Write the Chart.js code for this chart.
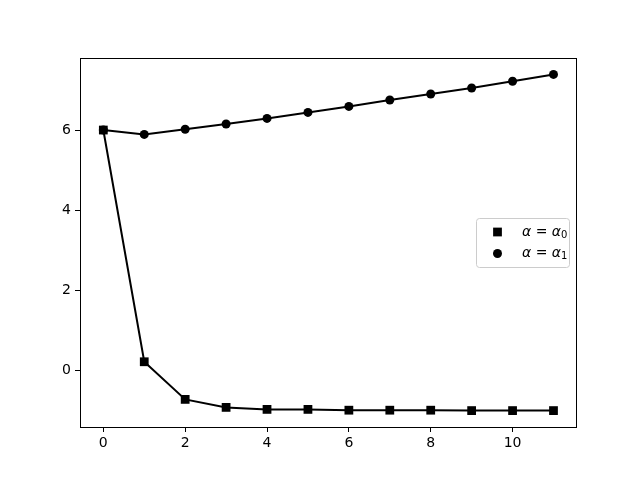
<!DOCTYPE html>
<html>
<head>
<meta charset="utf-8">
<script src="https://cdn.jsdelivr.net/npm/chart.js@4.4.1/dist/chart.umd.min.js"></script>
<style>
    html, body { margin: 0; padding: 0; background: #fff; }
    #wrap { width: 640px; height: 480px; }
</style>
</head>
<body>
<div id="wrap"><canvas id="chart" width="640" height="480"></canvas></div>
<script>
// data
const steps = [0, 1, 2, 3, 4, 5, 6, 7, 8, 9, 10, 11];
const alpha0 = [6.0, 0.21, -0.73, -0.93, -0.98, -0.98, -1.0, -1.0, -1.0, -1.01, -1.01, -1.01];
const alpha1 = [6.0, 5.89, 6.02, 6.15, 6.29, 6.44, 6.59, 6.75, 6.9, 7.05, 7.22, 7.39];
const xTicks = [0, 2, 4, 6, 8, 10];
const yTicks = [0, 2, 4, 6];
const legendLabels = [['α', ' = ', 'α', '0'], ['α', ' = ', 'α', '1']];

const FONT = '"DejaVu Sans", sans-serif';

function toPoints(ys) {
    return steps.map((x, i) => ({ x: x, y: ys[i] }));
}

// box round the axes, like matplotlib spines
const frame = {
    id: 'frame',
    afterDraw(chart) {
        const a = chart.chartArea;
        const ctx = chart.ctx;
        ctx.save();
        ctx.strokeStyle = '#000';
        ctx.lineWidth = 1;
        ctx.strokeRect(Math.round(a.left) + 0.5, Math.round(a.top) + 0.5,
            Math.round(a.right - a.left), Math.round(a.bottom - a.top));
        ctx.restore();
    }
};

// legend with markers only, placed centre right inside the axes
const markerLegend = {
    id: 'markerLegend',
    afterDraw(chart) {
        const ctx = chart.ctx;
        const a = chart.chartArea;
        const w = 93, h = 49;
        const x0 = a.right - 7 - w;
        const y0 = (a.top + a.bottom) / 2 - h / 2;
        ctx.save();
        ctx.fillStyle = 'rgba(255,255,255,0.8)';
        ctx.strokeStyle = '#cccccc';
        ctx.lineWidth = 1;
        ctx.beginPath();
        ctx.roundRect(x0 + 0.5, y0 + 0.5, w, h, 3);
        ctx.fill();
        ctx.stroke();

        chart.data.datasets.forEach((ds, i) => {
            const cy = y0 + 14 + i * 21.5;
            const mx = x0 + 21.5;
            ctx.fillStyle = '#000';
            ctx.beginPath();
            if (ds.pointStyle === 'rect') {
                const s = ds.pointRadius * Math.SQRT1_2;
                ctx.rect(mx - s, cy - s, 2 * s, 2 * s);
            } else {
                ctx.arc(mx, cy, ds.pointRadius, 0, Math.PI * 2);
            }
            ctx.fill();

            const parts = legendLabels[i];
            let tx = x0 + 46;
            ctx.textBaseline = 'middle';
            ctx.font = 'italic 14px ' + FONT;
            ctx.fillText(parts[0], tx, cy);
            tx += ctx.measureText(parts[0]).width;
            ctx.font = '14px ' + FONT;
            ctx.fillText(parts[1], tx, cy);
            tx += ctx.measureText(parts[1]).width;
            ctx.font = 'italic 14px ' + FONT;
            ctx.fillText(parts[2], tx, cy);
            tx += ctx.measureText(parts[2]).width;
            ctx.font = '10px ' + FONT;
            ctx.fillText(parts[3], tx, cy + 3);
        });
        ctx.restore();
    }
};

new Chart(document.getElementById('chart'), {
    type: 'line',
    data: {
        datasets: [{
            label: 'alpha0',
            data: toPoints(alpha0),
            borderColor: '#000',
            backgroundColor: '#000',
            borderWidth: 2,
            pointStyle: 'rect',
            pointRadius: 6.2,
            pointBorderWidth: 0,
            tension: 0
        }, {
            label: 'alpha1',
            data: toPoints(alpha1),
            borderColor: '#000',
            backgroundColor: '#000',
            borderWidth: 2,
            pointStyle: 'circle',
            pointRadius: 4.5,
            pointBorderWidth: 0,
            tension: 0
        }]
    },
    options: {
        responsive: false,
        animation: false,
        layout: { padding: { top: 58, right: 64, left: 0, bottom: 0 } },
        plugins: {
            legend: { display: false },
            tooltip: { enabled: false }
        },
        scales: {
            x: {
                type: 'linear',
                min: -0.57,
                max: 11.55,
                afterBuildTicks: s => { s.ticks = xTicks.map(v => ({ value: v })); },
                afterFit: s => { s.height = 53; },
                grid: { drawOnChartArea: false, tickLength: 5, color: '#000', tickColor: '#000' },
                border: { display: false },
                ticks: { color: '#000', font: { family: FONT, size: 14 }, padding: 3, maxRotation: 0 }
            },
            y: {
                min: -1.42,
                max: 7.8,
                afterBuildTicks: s => { s.ticks = yTicks.map(v => ({ value: v })); },
                afterFit: s => { s.width = 80; },
                grid: { drawOnChartArea: false, tickLength: 5, color: '#000', tickColor: '#000' },
                border: { display: false },
                ticks: { color: '#000', font: { family: FONT, size: 14 }, padding: 4 }
            }
        }
    },
    plugins: [frame, markerLegend]
});
</script>
</body>
</html>
